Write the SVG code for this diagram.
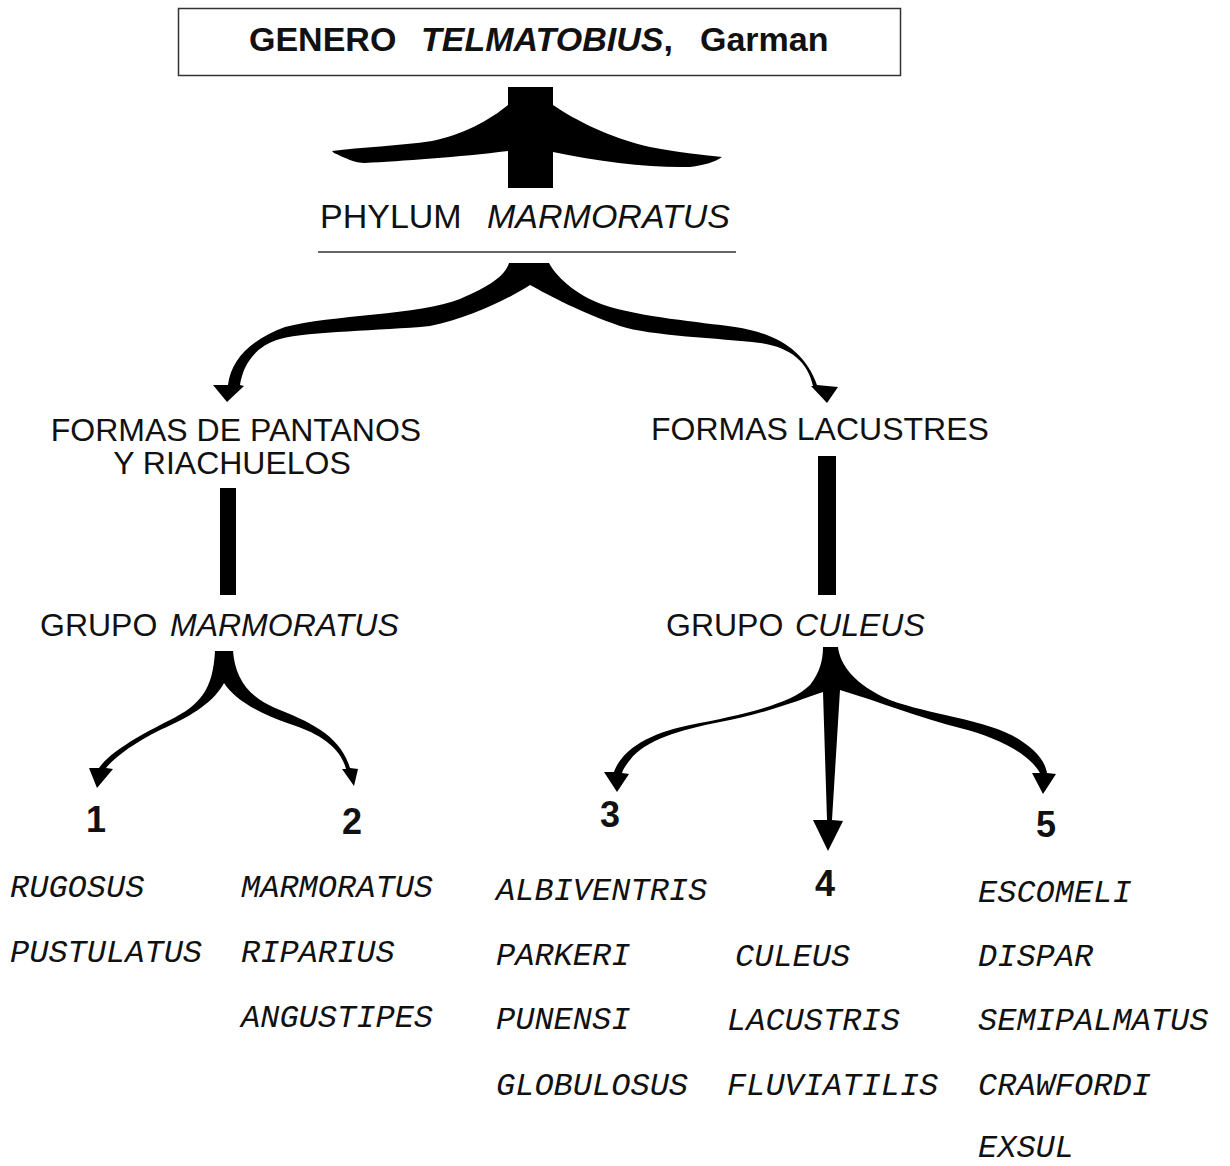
<svg xmlns="http://www.w3.org/2000/svg" width="1230" height="1166" viewBox="0 0 1230 1166">
<style>
.h{font-family:"Liberation Sans",Arial,sans-serif;fill:#111}
.b{font-weight:bold}
.i{font-style:italic}
.sp{font-family:"Liberation Mono","Courier New",monospace;font-style:italic;font-size:32px;fill:#111}
.num{font-family:"Liberation Sans",Arial,sans-serif;font-weight:bold;font-size:36px;fill:#111;text-anchor:middle}
.ink{fill:#000}
</style>
<rect width="1230" height="1166" fill="#fff"/>

<g id="genero">
<rect x="178.5" y="8.5" width="722" height="67" fill="none" stroke="#333" stroke-width="1.5"/>
<text class="h b" font-size="34" y="51"><tspan x="249">GENERO</tspan><tspan x="421" font-style="italic">TELMATOBIUS</tspan><tspan>,</tspan><tspan x="700">Garman</tspan></text>
</g>

<g id="phylum">
<text class="h" font-size="34" y="228"><tspan x="320">PHYLUM</tspan><tspan x="487" font-style="italic">MARMORATUS</tspan></text>
<line x1="318" y1="252" x2="736" y2="252" stroke="#333" stroke-width="1.5"/>
</g>

<g id="formas-pantanos">
<text class="h" font-size="32" text-anchor="middle"><tspan x="236" y="441">FORMAS DE PANTANOS</tspan><tspan x="232" y="474">Y RIACHUELOS</tspan></text>
</g>

<g id="formas-lacustres">
<text class="h" font-size="32" x="651" y="440">FORMAS LACUSTRES</text>
</g>

<g id="grupo-marmoratus">
<text class="h" font-size="32" y="636"><tspan x="40">GRUPO</tspan><tspan x="170" font-style="italic">MARMORATUS</tspan></text>
</g>

<g id="grupo-culeus">
<text class="h" font-size="32" y="636"><tspan x="666">GRUPO</tspan><tspan x="795" font-style="italic">CULEUS</tspan></text>
</g>

<g id="g1">
<text class="num" x="96" y="832">1</text>
<text class="sp" x="10" y="897">RUGOSUS</text>
<text class="sp" x="10" y="962">PUSTULATUS</text>
</g>
<g id="g2">
<text class="num" x="352" y="834">2</text>
<text class="sp" x="241" y="897">MARMORATUS</text>
<text class="sp" x="241" y="962">RIPARIUS</text>
<text class="sp" x="241" y="1027">ANGUSTIPES</text>
</g>
<g id="g3">
<text class="num" x="610" y="827">3</text>
<text class="sp" x="496" y="900">ALBIVENTRIS</text>
<text class="sp" x="496" y="965">PARKERI</text>
<text class="sp" x="496" y="1029">PUNENSI</text>
<text class="sp" x="496" y="1095">GLOBULOSUS</text>
</g>
<g id="g4">
<text class="num" x="825" y="896">4</text>
<text class="sp" x="735" y="966">CULEUS</text>
<text class="sp" x="727" y="1030">LACUSTRIS</text>
<text class="sp" x="727" y="1095">FLUVIATILIS</text>
</g>
<g id="g5">
<text class="num" x="1046" y="837">5</text>
<text class="sp" x="978" y="902">ESCOMELI</text>
<text class="sp" x="978" y="966">DISPAR</text>
<text class="sp" x="978" y="1030">SEMIPALMATUS</text>
<text class="sp" x="978" y="1095">CRAWFORDI</text>
<text class="sp" x="978" y="1157">EXSUL</text>
</g>

<g id="connectors" class="ink">
<rect x="508" y="87" width="45" height="101"/>
<path d="M508,105 C490,120 462,135 432,141 C400,146 360,147 332,151 L334,153 C345,158 355,163 365,163 C400,161 460,157 508,151 Z"/>
<path d="M553,105 C575,120 610,138 650,147 C680,153 705,155 722,157 C715,162 705,165 690,167 C650,168 600,162 553,152 Z"/>
<path d="M509,263 L549,263 C555,275 575,295 604,305 C640,317 700,322 735,327 C775,333 805,350 817,385 L838,387 L827,403 L811,386 L813,386 C808,362 790,347 760,343 C720,338 650,336 620,326 C580,312 550,296 530,285 C510,298 470,318 430,326 C380,331 310,331 280,339 C255,346 243,365 240,385 L244,386 L227,402 L213,385 L228,385 C231,360 250,340 285,327 C330,315 420,315 460,299 C490,286 505,276 509,263 Z"/>
<rect x="220" y="488" width="16" height="107"/>
<rect x="818" y="456" width="18" height="139"/>
<path d="M215,651 L233,651 C235,675 245,695 275,708 C310,722 340,735 350,768 L358,769 L354,786 L342,769 L346,769 C340,745 315,732 290,724 C260,714 235,700 224,683 C215,700 195,715 160,730 C130,745 112,760 106,768 L113,769 L97,788 L89,768 L99,768 C110,752 140,735 170,720 C200,705 213,690 215,651 Z"/>
<path d="M823,647 L838,647 C840,665 855,685 890,700 C930,715 990,720 1020,740 C1038,752 1045,762 1047,773 L1056,774 L1043,794 L1032,773 L1040,773 C1030,755 1000,738 960,728 C920,718 880,702 840,690 L832,820 L843,821 L828,851 L813,820 L827,820 L823,692 C800,700 760,715 720,722 C680,730 645,740 630,760 C625,766 623,770 622,773 L629,774 L617,792 L604,772 L614,772 C620,755 640,735 690,725 C740,715 790,705 810,685 C820,672 823,660 823,647 Z"/>
</g>
</svg>
